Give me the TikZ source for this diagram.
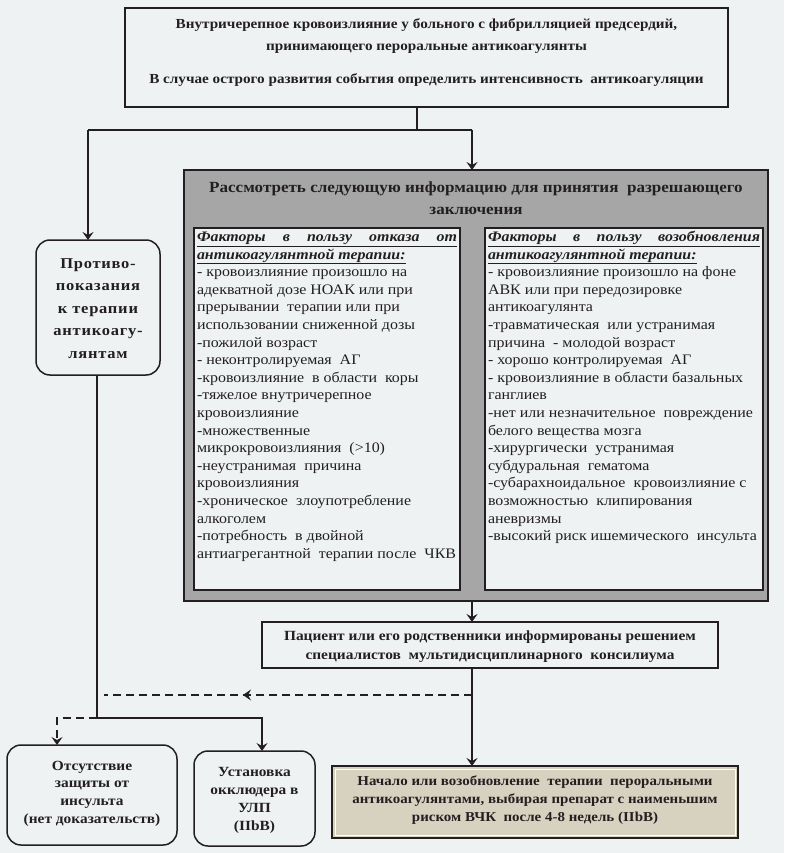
\documentclass[tikz,border=0pt]{standalone}
\usepackage{fontspec}
\setmainfont{Liberation Serif}[FakeStretch=1.1]
\usetikzlibrary{arrows.meta,calc}
\definecolor{bg}{HTML}{EEF2F3}
\definecolor{ink}{HTML}{231F20}
\definecolor{grayfill}{HTML}{A6A6A6}
\definecolor{beige}{HTML}{D7D1C0}
\newcommand{\bx}[3]{\begin{minipage}[t][#2][t]{#1}#3\end{minipage}}
\newcommand{\up}[1]{\rule{0pt}{#1}}
\tikzset{
  box/.style={draw=ink, line width=1.5pt, fill=bg, inner sep=0pt, outer sep=0pt, anchor=north west, text=ink},
  rbox/.style={box, rounded corners=14pt},
  graybox/.style={box, fill=grayfill, line width=1.8pt},
  beigebox/.style={box, fill=beige, line width=1.8pt},
  conn/.style={draw=ink, line width=1.5pt},
  tip/.style={-{Stealth[length=8pt,width=11pt,inset=3pt]}},
  arr/.style={conn, tip},
  dashline/.style={conn, dash pattern=on 8pt off 5pt}
}
\begin{document}
\begin{tikzpicture}[x=1pt,y=-1pt]
\fill[bg] (0,0) rectangle (784,853);
\useasboundingbox (0,0) rectangle (784,853);

% top box
\node[box] (top) at (125,8) {\bx{603pt}{99pt}{\centering\bfseries\fontsize{13.8}{22}\selectfont
\up{21pt}Внутричерепное кровоизлияние у больного с фибрилляцией предсердий,\\
принимающего пероральные антикоагулянты\\[11pt]
В случае острого развития события определить интенсивность\ \ антикоагуляции\par}};

% gray box
\node[graybox] (gray) at (184,170) {\bx{584pt}{431pt}{\centering\bfseries\fontsize{15.5}{22}\selectfont
\up{22pt}Рассмотреть следующую информацию для принятия\ \ разрешающего\\
заключения\par}};

% left list
\node[box] (left) at (194,228) {\bx{266pt}{362pt}{\fontsize{14.5}{17.6}\selectfont\raggedright\leftskip=3pt
\up{13.5pt}\underline{\makebox[260pt][s]{\bfseries\itshape Факторы в пользу отказа от}}\\
\underline{\bfseries\itshape антикоагулянтной терапии:}\\
- кровоизлияние произошло на\\
адекватной дозе НОАК или при\\
прерывании\ \ терапии или при\\
использовании сниженной дозы\\
-пожилой возраст\\
- неконтролируемая\ \ АГ\\
-кровоизлияние\ \ в области\ \ коры\\
-тяжелое внутричерепное\\
кровоизлияние\\
-множественные\\
микрокровоизлияния\ \ (>10)\\
-неустранимая\ \ причина\\
кровоизлияния\\
-хроническое\ \ злоупотребление\\
алкоголем\\
-потребность\ \ в двойной\\
антиагрегантной\ \ терапии после\ \ ЧКВ\par}};

% right list
\node[box] (right) at (485,228) {\bx{278pt}{362pt}{\fontsize{14.5}{17.6}\selectfont\raggedright\leftskip=3pt
\up{13.5pt}\underline{\makebox[272pt][s]{\bfseries\itshape Факторы в пользу возобновления}}\\
\underline{\bfseries\itshape антикоагулянтной терапии:}\\
- кровоизлияние произошло на фоне\\
АВК или при передозировке\\
антикоагулянта\\
-травматическая\ \ или устранимая\\
причина\ \ - молодой возраст\\
- хорошо контролируемая\ \ АГ\\
- кровоизлияние\ в области базальных\\
ганглиев\\
-нет или незначительное\ \ повреждение\\
белого вещества мозга\\
-хирургически\ \ устранимая\\
субдуральная\ \ гематома\\
-субарахноидальное\ \ кровоизлияние с\\
возможностью\ \ клипирования\\
аневризмы\\
-высокий риск ишемического\ \ инсульта\par}};

% contraindications
\node[rbox] (contra) at (36,240) {\bx{124pt}{135pt}{\centering\bfseries\fontsize{15}{22.5}\selectfont\addfontfeature{LetterSpace=5}
\up{28pt}Противо-\\показания\\к терапии\\антикоагу-\\лянтам\par}};

% middle box
\node[box] (mid) at (262,622) {\bx{456pt}{46pt}{\centering\bfseries\fontsize{14}{19}\selectfont
\up{18pt}Пациент или его родственники информированы решением\\
специалистов\ \ мультидисциплинарного\ \ консилиума\par}};

% bottom boxes
\node[rbox] (absent) at (7,745) {\bx{170pt}{100pt}{\centering\bfseries\fontsize{14}{17.8}\selectfont
\up{25pt}Отсутствие\\защиты от\\инсульта\\(нет доказательств)\par}};
\node[rbox] (inst) at (194,751) {\bx{121pt}{95pt}{\centering\bfseries\fontsize{14}{18}\selectfont
\up{25pt}Установка\\окклюдера в\\УЛП\\(IIbB)\par}};
\node[beigebox] (start) at (332,766) {\bx{406pt}{72pt}{\centering\bfseries\fontsize{13.6}{18}\selectfont
\up{19pt}Начало или возобновление\ \ терапии\ \ пероральными\\
антикоагулянтами, выбирая препарат с наименьшим\\
риском ВЧК\ \ после 4-8 недель (IIbB)\par}};
\draw[white, line width=1pt] ($(start.north west)+(3,3)$) rectangle ($(start.south east)+(-3,-3)$);

% connectors
\coordinate (j1) at (417,130);
\coordinate (cl) at (88,130);
\coordinate (cr) at (472,130);
\draw[conn] (j1 |- top.south) -- (j1);
\draw[conn] (cl) -- (cr);
\draw[arr] (cl) -- (cl |- contra.north);
\draw[arr] (cr) -- (cr |- gray.north);
\draw[arr] (cr |- gray.south) -- (cr |- mid.north);
\draw[arr] (cr |- mid.south) -- (cr |- start.north);

\coordinate (d1) at (472,695);
\coordinate (dm) at (243,695);
\coordinate (d2) at (104,695);
\draw[dashline] (d1) -- (d2);
\draw[dashline, tip] (d1) -- (dm);

\coordinate (cb) at (97,718);
\coordinate (ib) at (262,718);
\coordinate (ab) at (57,718);
\draw[arr] (cb |- contra.south) -- (cb) -- (ib) -- (ib |- inst.north);
\draw[dashline, tip] (cb) -- (ab) -- (ab |- absent.north);
\end{tikzpicture}
\end{document}
